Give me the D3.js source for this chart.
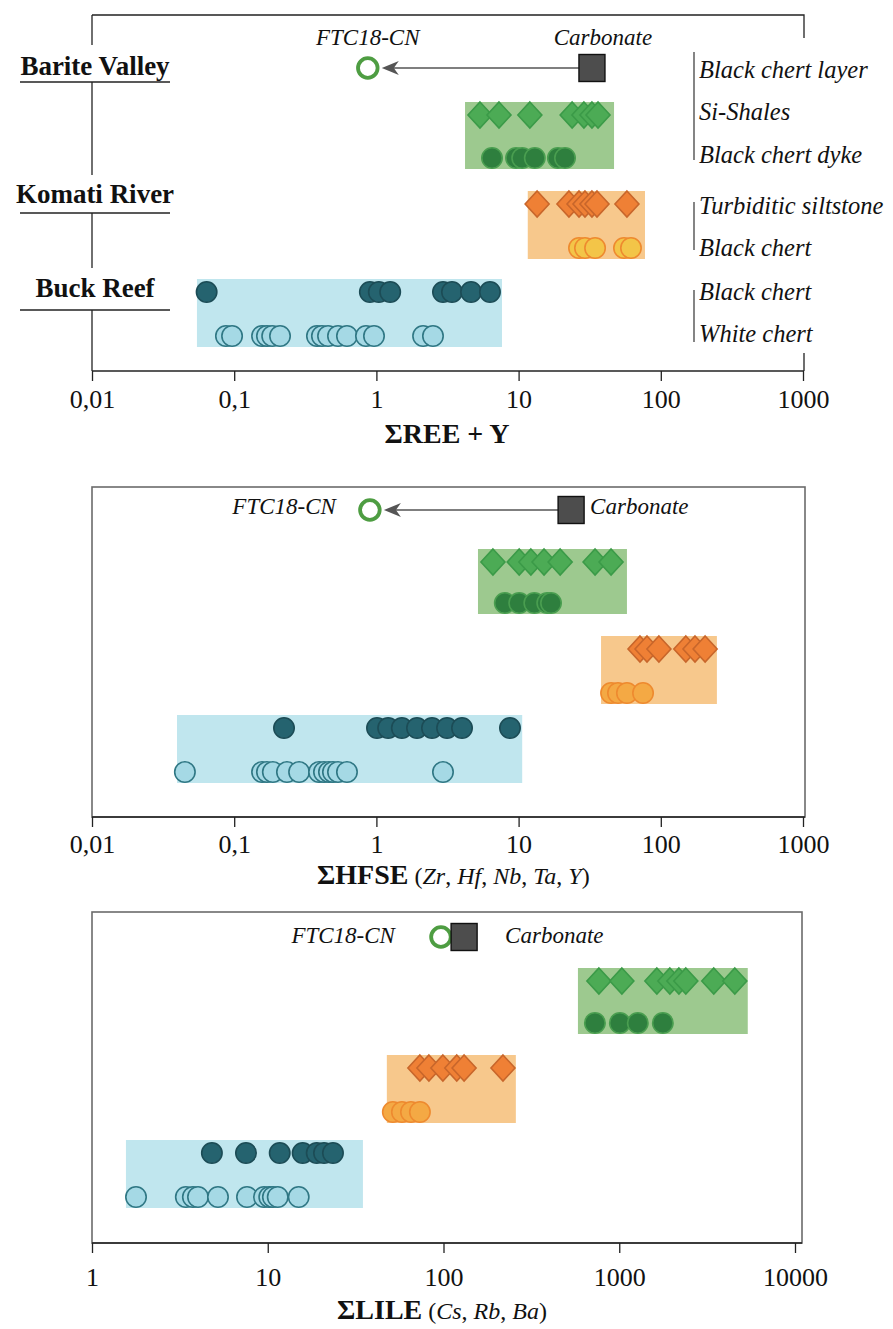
<!DOCTYPE html>
<html><head><meta charset="utf-8">
<script src="https://cdn.jsdelivr.net/npm/d3@7"></script>
<style>
body{margin:0;background:#fff}
svg{display:block}
text{font-family:"Liberation Serif","Times New Roman",serif;fill:#111}
</style>
</head><body>
<script>
// ---------- DATA ----------
// Σ REE + Y
const reeCarbonate = 32.8, reeFTC = 0.87;
const reeGreenDiamond = [5.35, 7.28, 12.0, 23.8, 28.8, 32.8, 36.2];
const reeGreenCircle = [6.5, 9.6, 10.6, 13.0, 18.9, 21.2];
const reeOrangeDiamond = [13.5, 22.6, 26.6, 29.3, 32.8, 35.6, 57.8];
const reeOrangeCircle = [26.6, 29.3, 34.5, 55.1, 61.7];
const reeBlueDark = [0.064, 0.90, 1.04, 1.25, 2.94, 3.40, 4.63, 6.29];
const reeBlueLight = [0.0875, 0.0966, 0.157, 0.170, 0.185, 0.210, 0.382, 0.414, 0.457, 0.537, 0.621, 0.845, 0.962, 2.13, 2.50];
const reeRanges = [[4.2, 46.9], [11.6, 77.4], [0.0547, 7.64]];

// Σ HFSE
const hfseCarbonate = 23.4, hfseFTC = 0.90;
const hfseGreenDiamond = [6.6, 10.1, 12.2, 15.1, 19.6, 34.5, 44.7];
const hfseGreenCircle = [8.0, 10.1, 12.9, 15.9, 16.9];
const hfseOrangeDiamond = [71.4, 80, 97, 150, 174, 205];
const hfseOrangeCircle = [44.7, 50.0, 57.8, 75];
const hfseBlueDark = [0.224, 1.01, 1.21, 1.51, 1.93, 2.46, 3.14, 4.0, 8.7];
const hfseBlueLight = [0.045, 0.157, 0.170, 0.187, 0.235, 0.286, 0.395, 0.428, 0.464, 0.495, 0.537, 0.621, 2.94];
const hfseRanges = [[5.18, 57.8], [38, 248], [0.0396, 10.6]];

// Σ LILE
const lileCarbonate = 131, lileFTC = 96.7;
const lileGreenDiamond = [766, 1035, 1637, 1941, 2185, 2392, 3450, 4546];
const lileGreenCircle = [727, 1008, 1275, 1770];
const lileOrangeDiamond = [73.4, 82.6, 99.2, 119, 131, 218];
const lileOrangeCircle = [51.5, 58, 65.3, 73.4];
const lileBlueDark = [4.81, 7.52, 11.7, 15.8, 19.0, 20.9, 23.5];
const lileBlueLight = [1.78, 3.42, 3.75, 4.01, 5.21, 7.62, 9.52, 10.2, 10.7, 11.4, 15.0];
const lileRanges = [[582, 5385], [47.6, 258], [1.56, 34.8]];

// ticks
const ticksA = [0.01, 0.1, 1, 10, 100, 1000];
const tickLabelsA = ["0,01", "0,1", "1", "10", "100", "1000"];
const ticksB = [1, 10, 100, 1000, 10000];
const tickLabelsB = ["1", "10", "100", "1000", "10000"];

// labels
const siteLabels = ["Barite Valley", "Komati River", "Buck Reef"];
const lithoLabels = [["Black chert layer", "Si-Shales", "Black chert dyke"], ["Turbiditic siltstone", "Black chert"], ["Black chert", "White chert"]];
const refLabels = ["FTC18-CN", "Carbonate"];

// ---------- STYLE ----------
const C = {
  greenBox: "#9dc98f", greenDia: "#4cab55", greenDiaS: "#3b9a48", greenCirc: "#2e7f3e", greenCircS: "#4a9e50",
  orangeBox: "#f7c88c", orangeDia: "#ef8035", orangeDiaS: "#c8662b", orangeCircS: "#ee8a2f",
  blueBox: "#c0e6ee", blueDark: "#25636f", blueDarkS: "#1c4c56", blueLight: "#a5d9e5", blueLightS: "#2f7784",
  ftc: "#4e9d42", square: "#4d4d4d", arrow: "#555"
};

const panels = [
  { domain: [0.01, 1000], range: [92, 803], ticks: ticksA, tickLabels: tickLabelsA,
    frameTop: 15, frameRight: 804, axisY: 371, tickLabelY: 408, full: false,
    rows: [68, 115, 158, 204, 248, 292, 336],
    series: [reeGreenDiamond, reeGreenCircle, reeOrangeDiamond, reeOrangeCircle, reeBlueDark, reeBlueLight],
    ranges: reeRanges, carbonate: reeCarbonate, ftc: reeFTC, orangeCircFill: "#f3c548", arrow: true,
    annot: "above", title: [{t: "ΣREE + Y", b: true}], titleX: 447, titleAnchor: "middle", titleY: 443 },
  { domain: [0.01, 1000], range: [92, 803], ticks: ticksA, tickLabels: tickLabelsA,
    frameTop: 487, frameRight: 805, axisY: 817, tickLabelY: 853, full: true,
    rows: [510, 562, 603, 649, 693, 728, 772],
    series: [hfseGreenDiamond, hfseGreenCircle, hfseOrangeDiamond, hfseOrangeCircle, hfseBlueDark, hfseBlueLight],
    ranges: hfseRanges, carbonate: hfseCarbonate, ftc: hfseFTC, orangeCircFill: "#f4a944", arrow: true,
    annot: "side", ftcLabelDx: -34, carbLabelDx: 19, annotY: 514,
    title: [{t: "ΣHFSE", b: true}, {t: " (", s: 1}, {t: "Zr", i: true, s: 1}, {t: ", ", s: 1}, {t: "Hf", i: true, s: 1}, {t: ", ", s: 1}, {t: "Nb", i: true, s: 1}, {t: ", ", s: 1}, {t: "Ta", i: true, s: 1}, {t: ", ", s: 1}, {t: "Y", i: true, s: 1}, {t: ")", s: 1}],
    titleX: 317, titleAnchor: "start", titleY: 884 },
  { domain: [1, 10000], range: [92, 795], ticks: ticksB, tickLabels: tickLabelsB,
    frameTop: 912, frameRight: 802, axisY: 1243, tickLabelY: 1286, full: true,
    rows: [937, 981, 1023, 1068, 1112, 1153, 1197],
    series: [lileGreenDiamond, lileGreenCircle, lileOrangeDiamond, lileOrangeCircle, lileBlueDark, lileBlueLight],
    ranges: lileRanges, carbonate: lileCarbonate, ftc: lileFTC, orangeCircFill: "#f4a944", arrow: false,
    annot: "side", ftcLabelDx: -46, carbLabelDx: 41, annotY: 943,
    title: [{t: "ΣLILE", b: true}, {t: " (", s: 1}, {t: "Cs", i: true, s: 1}, {t: ", ", s: 1}, {t: "Rb", i: true, s: 1}, {t: ", ", s: 1}, {t: "Ba", i: true, s: 1}, {t: ")", s: 1}],
    titleX: 337, titleAnchor: "start", titleY: 1319 }
];

const svg = d3.select("body").append("svg").attr("width", 893).attr("height", 1329);
const diamond = "M0,-13L12,0L0,13L-12,0Z";

panels.forEach((p, pi) => {
  const g = svg.append("g");
  const x = d3.scaleLog().domain(p.domain).range(p.range);
  const left = p.range[0];

  // frame
  if (p.full) {
    g.append("rect").attr("x", left).attr("y", p.frameTop)
      .attr("width", p.frameRight - left).attr("height", p.axisY - p.frameTop)
      .attr("fill", "none").attr("stroke", "#6b6b6b").attr("stroke-width", 1.6);
  } else {
    g.append("path").attr("fill", "none").attr("stroke", "#222").attr("stroke-width", 1.3)
      .attr("d", `M${left},${p.frameTop}H${p.frameRight}V38M${p.frameRight},353V${p.axisY}`);
  }

  // boxes
  const boxColors = [C.greenBox, C.orangeBox, C.blueBox];
  p.ranges.forEach((r, k) => {
    const yTop = p.rows[1 + 2 * k] - 13, yBot = p.rows[2 + 2 * k] + 11;
    g.append("rect").attr("x", x(r[0])).attr("y", yTop)
      .attr("width", x(r[1]) - x(r[0])).attr("height", yBot - yTop).attr("fill", boxColors[k]);
  });

  // markers
  const styles = [
    {shape: "d", fill: C.greenDia, stroke: C.greenDiaS},
    {shape: "c", fill: C.greenCirc, stroke: C.greenCircS},
    {shape: "d", fill: C.orangeDia, stroke: C.orangeDiaS},
    {shape: "c", fill: p.orangeCircFill, stroke: C.orangeCircS},
    {shape: "c", fill: C.blueDark, stroke: C.blueDarkS},
    {shape: "c", fill: C.blueLight, stroke: C.blueLightS}
  ];
  p.series.forEach((vals, k) => {
    const st = styles[k], y = p.rows[k + 1];
    const sel = g.append("g").selectAll(null).data(vals);
    if (st.shape === "d") {
      sel.join("path").attr("d", diamond).attr("transform", d => `translate(${x(d)},${y})`)
        .attr("fill", st.fill).attr("stroke", st.stroke).attr("stroke-width", 1.6);
    } else {
      sel.join("circle").attr("cx", d => x(d)).attr("cy", y).attr("r", 10.2)
        .attr("fill", st.fill).attr("stroke", st.stroke).attr("stroke-width", 1.6);
    }
  });

  // reference: FTC18-CN and carbonate
  const yr = p.rows[0], xc = x(p.carbonate), xf = x(p.ftc);
  if (p.arrow) {
    const tip = xf + 14;
    g.append("line").attr("x1", xc - 13).attr("x2", tip + 10).attr("y1", yr).attr("y2", yr)
      .attr("stroke", C.arrow).attr("stroke-width", 1.3);
    g.append("path").attr("d", `M${tip},${yr}L${tip + 17},${yr - 7}L${tip + 12},${yr}L${tip + 17},${yr + 7}Z`)
      .attr("fill", C.arrow);
  }
  g.append("circle").attr("cx", xf).attr("cy", yr).attr("r", 9.8)
    .attr("fill", "#fff").attr("stroke", C.ftc).attr("stroke-width", 3.8);
  g.append("rect").attr("x", xc - 13).attr("y", yr - 13.5).attr("width", 26).attr("height", 27)
    .attr("fill", C.square).attr("stroke", "#111").attr("stroke-width", 1.4);

  if (p.annot === "above") {
    g.append("text").attr("x", xf).attr("y", 45).attr("text-anchor", "middle")
      .attr("font-style", "italic").attr("font-size", 23).text(refLabels[0]);
    g.append("text").attr("x", xc + 11).attr("y", 45).attr("text-anchor", "middle")
      .attr("font-style", "italic").attr("font-size", 23).text(refLabels[1]);
  } else {
    g.append("text").attr("x", xf + p.ftcLabelDx).attr("y", p.annotY).attr("text-anchor", "end")
      .attr("font-style", "italic").attr("font-size", 23).text(refLabels[0]);
    g.append("text").attr("x", xc + p.carbLabelDx).attr("y", p.annotY).attr("text-anchor", "start")
      .attr("font-style", "italic").attr("font-size", 23).text(refLabels[1]);
  }

  // axis
  const ax = g.append("g").attr("transform", `translate(0,${p.axisY})`)
    .call(d3.axisBottom(x).tickValues(p.ticks).tickFormat((d, i) => p.tickLabels[i]).tickSize(10).tickSizeOuter(0));
  ax.select(".domain").remove();
  ax.selectAll(".tick line").attr("stroke", "#222").attr("stroke-width", 1.3);
  ax.selectAll(".tick text").attr("y", p.tickLabelY - p.axisY).attr("dy", 0)
    .attr("font-family", '"Liberation Serif",serif').attr("font-size", 26).attr("fill", "#111");
  g.append("line").attr("x1", left).attr("x2", p.frameRight).attr("y1", p.axisY).attr("y2", p.axisY)
    .attr("stroke", "#222").attr("stroke-width", 1.6);

  // title
  const tt = g.append("text").attr("x", p.titleX).attr("y", p.titleY).attr("text-anchor", p.titleAnchor);
  p.title.forEach(part => {
    tt.append("tspan").text(part.t)
      .attr("font-weight", part.b ? "bold" : "normal")
      .attr("font-style", part.i ? "italic" : "normal")
      .attr("font-size", part.s ? 24 : 28);
  });
});

// ---------- panel 1 site / lithology labels ----------
const g1 = svg.append("g");
const siteBase = [75, 203, 297], underY = [82, 213, 310];
// left border with gaps for labels
const segs = [[15, siteBase[0] - 30], [underY[0], siteBase[1] - 28], [underY[1], siteBase[2] - 29], [underY[2], 371]];
segs.forEach(s => g1.append("line").attr("x1", 92).attr("x2", 92).attr("y1", s[0]).attr("y2", s[1])
  .attr("stroke", "#222").attr("stroke-width", 1.3));
siteLabels.forEach((s, i) => {
  g1.append("text").attr("x", 95).attr("y", siteBase[i]).attr("text-anchor", "middle")
    .attr("font-weight", "bold").attr("font-size", 27).text(s);
  g1.append("line").attr("x1", 20).attr("x2", 170).attr("y1", underY[i]).attr("y2", underY[i])
    .attr("stroke", "#222").attr("stroke-width", 1.3);
});
const lithoBase = [[78, 120, 163], [214, 256], [300, 342]];
const brackets = [[52, 160], [202, 250], [290, 342]];
lithoLabels.forEach((grp, gi) => {
  g1.append("line").attr("x1", 694).attr("x2", 694).attr("y1", brackets[gi][0]).attr("y2", brackets[gi][1])
    .attr("stroke", "#333").attr("stroke-width", 1.2);
  grp.forEach((t, j) => g1.append("text").attr("x", 699).attr("y", lithoBase[gi][j])
    .attr("font-style", "italic").attr("font-size", 24.5).text(t));
});
</script>
</body></html>
